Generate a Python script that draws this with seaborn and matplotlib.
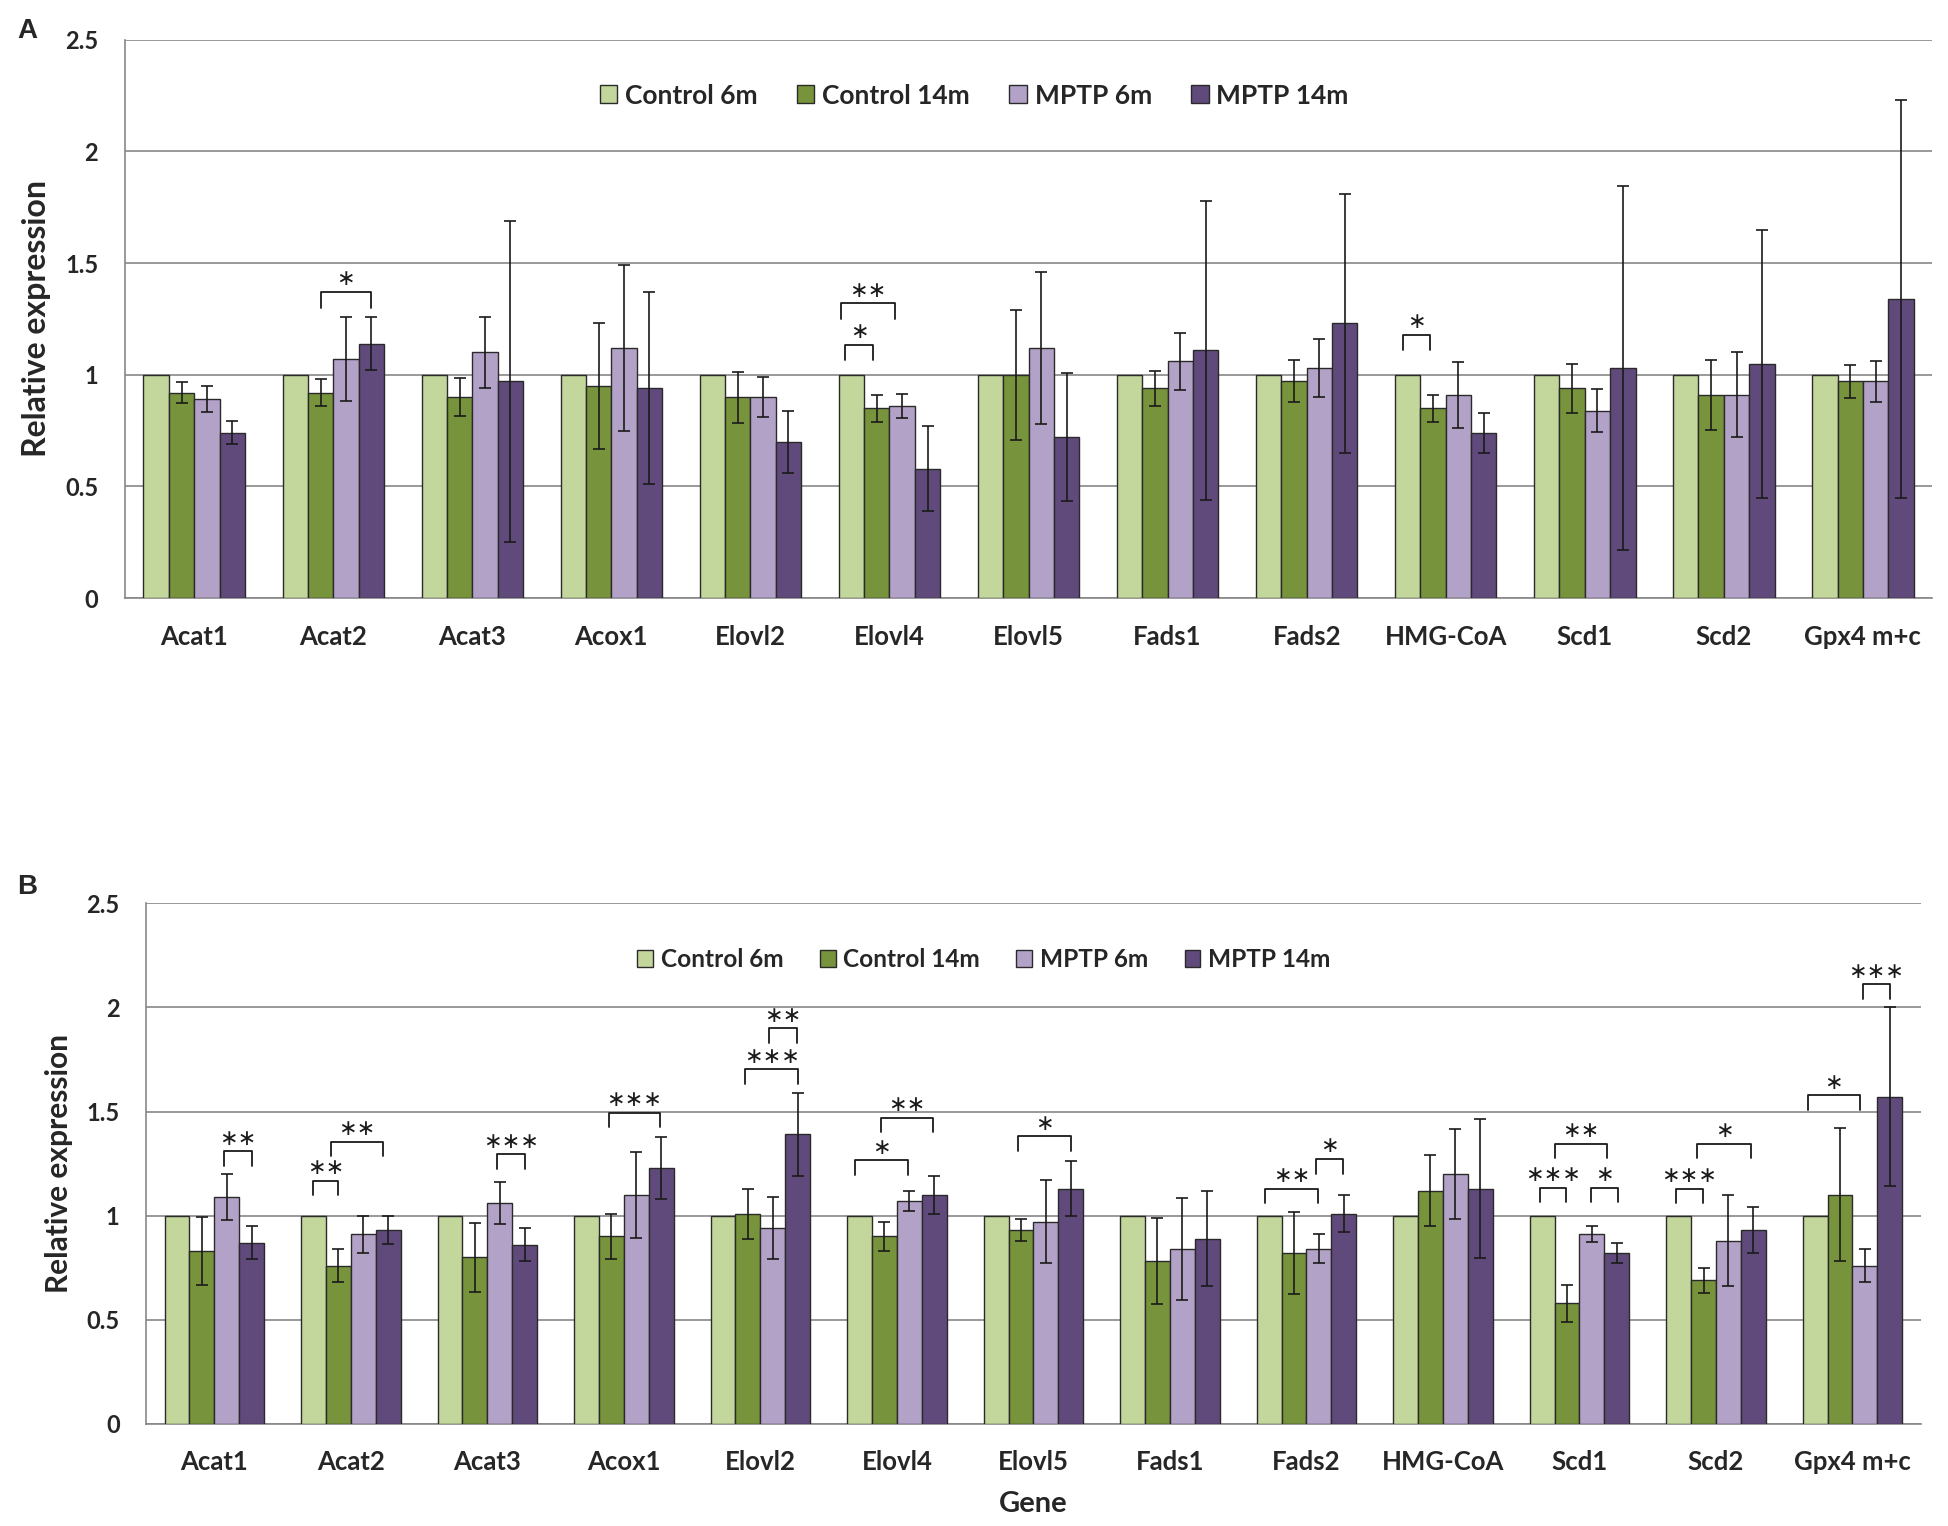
import numpy as np
import pandas as pd
import matplotlib
matplotlib.use('Agg')
import matplotlib.pyplot as plt
from matplotlib.patches import Patch
from matplotlib.ticker import FixedLocator
import seaborn as sns

genes = ['Acat1', 'Acat2', 'Acat3', 'Acox1', 'Elovl2', 'Elovl4', 'Elovl5',
         'Fads1', 'Fads2', 'HMG-CoA', 'Scd1', 'Scd2', 'Gpx4 m+c']
groups = ['Control 6m', 'Control 14m', 'MPTP 6m', 'MPTP 14m']
colors = ['#C3D69B', '#77933C', '#B3A2C7', '#604A7B']
y_ticks = [0, 0.5, 1, 1.5, 2, 2.5]
y_tick_labels = ['0', '0.5', '1', '1.5', '2', '2.5']

# panel A
ctrl6_a = [1.0] * 13
ctrl14_a = [0.92, 0.92, 0.90, 0.95, 0.90, 0.85, 1.00, 0.94, 0.97, 0.85, 0.94, 0.91, 0.97]
mptp6_a = [0.89, 1.07, 1.10, 1.12, 0.90, 0.86, 1.12, 1.06, 1.03, 0.91, 0.84, 0.91, 0.97]
mptp14_a = [0.74, 1.14, 0.97, 0.94, 0.70, 0.58, 0.72, 1.11, 1.23, 0.74, 1.03, 1.05, 1.34]
ctrl14_a_err = [0.046, 0.061, 0.084, 0.284, 0.114, 0.06, 0.29, 0.078, 0.094, 0.06, 0.11, 0.155, 0.075]
mptp6_a_err = [0.058, 0.187, 0.16, 0.37, 0.09, 0.055, 0.34, 0.127, 0.128, 0.147, 0.096, 0.19, 0.09]
mptp14_a_err = [0.052, 0.12, 0.72, 0.43, 0.14, 0.19, 0.286, 0.67, 0.58, 0.09, 0.816, 0.60, 0.89]

# panel B
ctrl6_b = [1.0] * 13
ctrl14_b = [0.83, 0.76, 0.80, 0.90, 1.01, 0.90, 0.93, 0.78, 0.82, 1.12, 0.58, 0.69, 1.10]
mptp6_b = [1.09, 0.91, 1.06, 1.10, 0.94, 1.07, 0.97, 0.84, 0.84, 1.20, 0.91, 0.88, 0.76]
mptp14_b = [0.87, 0.93, 0.86, 1.23, 1.39, 1.10, 1.13, 0.89, 1.01, 1.13, 0.82, 0.93, 1.57]
ctrl14_b_err = [0.163, 0.08, 0.166, 0.11, 0.12, 0.07, 0.052, 0.207, 0.196, 0.17, 0.089, 0.06, 0.32]
mptp6_b_err = [0.11, 0.09, 0.10, 0.206, 0.15, 0.05, 0.2, 0.245, 0.07, 0.217, 0.038, 0.22, 0.079]
mptp14_b_err = [0.078, 0.067, 0.08, 0.15, 0.2, 0.09, 0.13, 0.23, 0.09, 0.335, 0.05, 0.11, 0.43]

# significance brackets: (gene index, from bar slot, to bar slot, height, stars)
sig_a = [(1, 1.0, 3.0, 1.37, '*'), (5, -0.25, 0.85, 1.135, '*'),
         (5, -0.4, 1.7, 1.32, '**'), (9, -0.2, 0.9, 1.18, '*')]
sig_b = [(0, 1.9, 3.0, 1.31, '**'), (1, 0.0, 1.0, 1.168, '**'), (1, 0.7, 2.8, 1.355, '**'),
         (2, 1.9, 3.0, 1.295, '***'), (3, 0.9, 2.95, 1.495, '***'),
         (4, 0.9, 3.0, 1.703, '***'), (4, 1.85, 2.97, 1.90, '**'),
         (5, -0.18, 1.95, 1.266, '*'), (5, 0.85, 2.95, 1.471, '**'),
         (6, 0.9, 3.0, 1.382, '*'), (8, -0.16, 1.98, 1.129, '**'), (8, 1.9, 2.97, 1.272, '*'),
         (10, -0.1, 0.98, 1.133, '***'), (10, 0.5, 2.6, 1.346, '**'), (10, 1.98, 3.05, 1.133, '*'),
         (11, -0.1, 0.97, 1.129, '***'), (11, 0.75, 2.9, 1.346, '*'),
         (12, -0.3, 1.8, 1.578, '*'), (12, 1.93, 3.0, 2.111, '***')]

sns.set_style('white')
plt.rcParams['font.family'] = ['Lato', 'DejaVu Sans']

grid_col = '#878787'


def make_df(vals):
    rows = []
    for grp, v in zip(groups, vals):
        for g, y in zip(genes, v):
            rows.append({'gene': g, 'group': grp, 'value': y})
    return pd.DataFrame(rows)


def draw_panel(ax, vals, errs, sigs, legend_pos, fs_leg, fs_ylab):
    df = make_df(vals)
    sns.barplot(data=df, x='gene', y='value', hue='group', order=genes, hue_order=groups,
                palette=colors, saturation=1, width=0.73, edgecolor='#2a2a2a', linewidth=1.0,
                errorbar=None, legend=False, ax=ax, zorder=3)
    for cont, err in zip(ax.containers[1:], errs):
        xs = [b.get_x() + b.get_width() / 2 for b in cont]
        ys = [b.get_height() for b in cont]
        ax.errorbar(xs, ys, yerr=err, fmt='none', ecolor='#1a1a1a', elinewidth=1.2,
                    capsize=4.5, capthick=1.2, zorder=4)
    bw = ax.containers[0][0].get_width()
    leg = 0.07
    for gi, s0, s1, h, lab in sigs:
        b0 = ax.containers[0][gi]
        c0 = b0.get_x() + bw / 2
        x0 = c0 + s0 * bw
        x1 = c0 + s1 * bw
        ax.plot([x0, x0, x1, x1], [h - leg, h, h, h - leg], color='#1a1a1a', lw=1.3, zorder=5)
        ax.text((x0 + x1) / 2, h + 0.012, '\u2217' * len(lab), ha='center', va='bottom',
                fontsize=16, family='DejaVu Sans', color='#1a1a1a')

    ax.set_xlim(-0.5, 12.5)
    ax.set_yticks(y_ticks, y_tick_labels)
    ax.yaxis.set_minor_locator(FixedLocator(np.arange(0, 2.501, 0.1)))
    ax.set_ylim(0, 2.5)
    ax.grid(axis='y', which='major', color=grid_col, lw=1.2, zorder=0)
    ax.set_axisbelow(True)
    ax.xaxis.set_minor_locator(FixedLocator(np.arange(-0.5, 13, 1.0)))
    ax.tick_params(axis='x', which='major', length=0, pad=19, labelsize=18.5)
    ax.tick_params(axis='x', which='minor', length=6, width=1.2, color=grid_col, direction='out')
    ax.tick_params(axis='y', which='major', length=6, width=1.2, color=grid_col,
                   direction='out', pad=13, labelsize=17)
    ax.tick_params(axis='y', which='minor', length=6, width=1.0, color=grid_col, direction='in')
    for lbl in ax.get_xticklabels() + ax.get_yticklabels():
        lbl.set_fontweight('bold')
    for sp in ['top', 'right']:
        ax.spines[sp].set_visible(False)
    for sp in ['left', 'bottom']:
        ax.spines[sp].set_color(grid_col)
        ax.spines[sp].set_linewidth(1.2)
    ax.set_ylabel('Relative expression', fontsize=fs_ylab, fontweight='bold', labelpad=10)
    ax.set_xlabel('')

    handles = [Patch(facecolor=c, edgecolor='#2a2a2a', linewidth=1.0) for c in colors]
    ax.legend(handles, groups, loc='center', bbox_to_anchor=legend_pos, ncol=4, frameon=False,
              handlelength=0.65, handleheight=0.65, handletextpad=0.3, columnspacing=1.5,
              prop={'size': fs_leg, 'weight': 'bold'})


fig = plt.figure(figsize=(19.48, 15.26), dpi=100)
ax_a = fig.add_axes([0.064, 0.608, 0.928, 0.366])
ax_b = fig.add_axes([0.075, 0.067, 0.911, 0.341])

draw_panel(ax_a, [ctrl6_a, ctrl14_a, mptp6_a, mptp14_a],
           [ctrl14_a_err, mptp6_a_err, mptp14_a_err], sig_a, (0.47, 0.90), 19, 23)
draw_panel(ax_b, [ctrl6_b, ctrl14_b, mptp6_b, mptp14_b],
           [ctrl14_b_err, mptp6_b_err, mptp14_b_err], sig_b, (0.472, 0.892), 17.6, 21.5)
ax_b.set_xlabel('Gene', fontsize=21, fontweight='bold', labelpad=12)

fig.text(0.009, 0.988, 'A', fontsize=20, fontweight='bold', family='Liberation Sans', va='top')
fig.text(0.009, 0.427, 'B', fontsize=20, fontweight='bold', family='Liberation Sans', va='top')

fig.savefig('out.png', dpi=100, facecolor='white')
